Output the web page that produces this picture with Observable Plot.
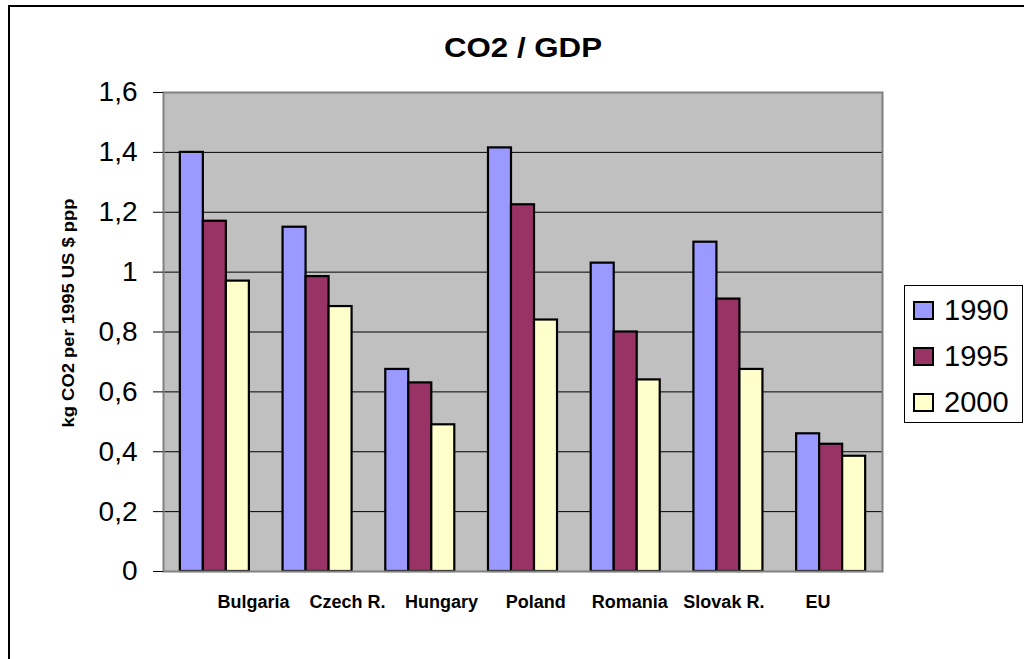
<!DOCTYPE html>
<html>
<head>
<meta charset="utf-8">
<script src="https://cdn.jsdelivr.net/npm/d3@7"></script>
<script src="https://cdn.jsdelivr.net/npm/@observablehq/plot@0.6"></script>
<style>
  html, body { margin: 0; padding: 0; background: #fff; }
  body { position: relative; width: 1024px; height: 659px; overflow: hidden;
         font-family: "Liberation Sans", Arial, sans-serif; color: #000; }
  #border { position: absolute; left: 8px; top: 5px; width: 1200px; height: 900px;
            border-left: 2px solid #000; border-top: 2px solid #000; }
  #chart { position: absolute; left: 0; top: 0; }
  #chart svg { display: block; }
  #legend { position: absolute; left: 904px; top: 285px; width: 119px; height: 138px;
            box-sizing: border-box; border: 1px solid #000; background: #fff; padding-top: 1px; }
  .item { display: flex; align-items: center; height: 46px; padding-left: 8px; }
  .swatch { width: 21px; height: 19px; box-sizing: border-box; border: 2px solid #000; margin-right: 10px; }
  .item span { font-size: 29px; line-height: 1; }
</style>
</head>
<body>
<div id="border"></div>
<div id="chart"></div>
<div id="legend"></div>
<script>
// Carbon intensity of GDP, kg CO2 per 1995 US $ (PPP)
const countries = ["Bulgaria", "Czech R.", "Hungary", "Poland", "Romania", "Slovak R.", "EU"];
const years = ["1990", "1995", "2000"];
const values1990 = [1.40, 1.15, 0.675, 1.415, 1.03, 1.10, 0.46];
const values1995 = [1.17, 0.985, 0.63, 1.225, 0.80, 0.91, 0.425];
const values2000 = [0.97, 0.885, 0.49, 0.84, 0.64, 0.675, 0.385];
const yearColors = ["#9999FF", "#993366", "#FFFFCC"];
const yTicks = [0, 0.2, 0.4, 0.6, 0.8, 1.0, 1.2, 1.4, 1.6];
const title = "CO2 / GDP";
const yLabel = "kg CO2 per 1995 US $ ppp";

const series = [values1990, values1995, values2000];
const rows = years.flatMap((year, j) =>
  countries.map((country, i) => ({country, year, value: series[j][i]})));

// Layout
const W = 1024, H = 659;
const margin = {top: 92, right: 142, bottom: 88, left: 163};
const step = (W - margin.left - margin.right) / countries.length;
const barWidth = step * 0.224;
const barInset = (step - barWidth) / 2;

// Category labels sit on a slightly narrower, right-shifted spread than the bands.
// The text mark adds half a band to x afterwards, so positions are given as band starts.
const labelSpread = 0.916;
const labelShift = 12.7;
function spreadLabels(index, scales, values, dimensions, context, next) {
  const {width, marginLeft, marginRight} = dimensions;
  const mid = (marginLeft + width - marginRight) / 2;
  const x = Float64Array.from(values.x, (_, i) => {
    const center = marginLeft + step * (i + 0.5);
    return mid + labelShift + (center - mid) * labelSpread - step / 2;
  });
  return next(index, scales, {...values, x}, dimensions, context);
}

const decimalComma = (d) => String(+d.toFixed(1)).replace(".", ",");

const chart = Plot.plot({
  width: W,
  height: H,
  marginTop: margin.top,
  marginRight: margin.right,
  marginBottom: margin.bottom,
  marginLeft: margin.left,
  style: {fontFamily: "'Liberation Sans', Arial, sans-serif", background: "transparent", color: "#000"},
  x: {domain: countries, padding: 0, round: false, axis: null},
  y: {domain: [0, 1.6], nice: false},
  color: {domain: years, range: yearColors},
  marks: [
    Plot.frame({fill: "#C0C0C0", stroke: null}),
    Plot.ruleY(yTicks.filter((t) => t > 0 && t < 1.6), {stroke: "#000", strokeWidth: 1}),
    ...years.map((year, j) => Plot.barY(rows.filter((d) => d.year === year), {
      x: "country",
      y: "value",
      fill: "year",
      stroke: "#000",
      strokeWidth: 2.2,
      insetLeft: barInset,
      insetRight: barInset,
      dx: (j - 1) * barWidth
    })),
    Plot.frame({stroke: "#808080", strokeWidth: 2}),
    Plot.axisY(yTicks, {
      tickSize: 10,
      tickPadding: 16,
      fontSize: 28,
      tickFormat: decimalComma,
      label: null,
      stroke: "#000"
    }),
    Plot.text(countries, {
      x: (d) => d,
      frameAnchor: "bottom",
      lineAnchor: "bottom",
      dy: 36,
      fontSize: 18,
      fontWeight: "bold",
      fill: "#000",
      render: spreadLabels
    }),
    Plot.text([title], {
      frameAnchor: "top",
      lineAnchor: "bottom",
      dy: -36,
      fontSize: 28,
      fontWeight: "bold",
      fill: "#000"
    }),
    Plot.text([yLabel], {
      frameAnchor: "left",
      textAnchor: "middle",
      lineAnchor: "bottom",
      rotate: -90,
      dx: -89.5,
      dy: -19,
      fontSize: 16,
      fontWeight: "bold",
      fill: "#000"
    })
  ]
});

document.getElementById("chart").appendChild(chart);

// Stretch the title and the axis title to their set lengths
const svg = d3.select(chart);
svg.selectAll("text").filter(function () { return this.textContent === title; })
  .attr("textLength", 158).attr("lengthAdjust", "spacingAndGlyphs");
svg.selectAll("text").filter(function () { return this.textContent === yLabel; })
  .attr("textLength", 229).attr("lengthAdjust", "spacingAndGlyphs");

// Legend
const legend = d3.select("#legend");
years.forEach((year, j) => {
  const item = legend.append("div").attr("class", "item");
  item.append("div").attr("class", "swatch").style("background", yearColors[j]);
  item.append("span").text(year);
});
</script>
</body>
</html>
